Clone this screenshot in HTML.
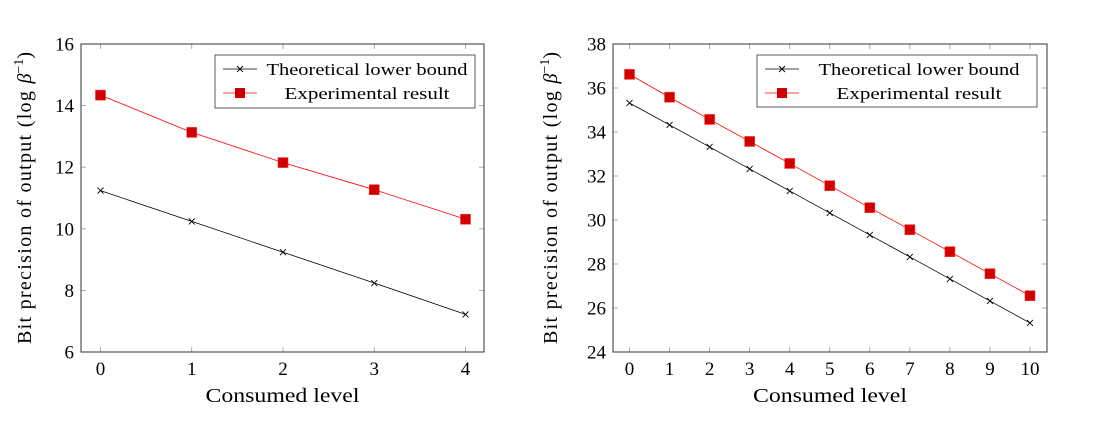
<!DOCTYPE html>
<html><head><meta charset="utf-8"><style>
html,body{margin:0;padding:0;background:#fff;}
svg{display:block;font-family:"Liberation Serif",serif;}
</style></head><body>
<svg id="svg" width="1096" height="428" xmlns="http://www.w3.org/2000/svg"></svg>
<script>
const leftLevels=[0,1,2,3,4];
const leftTheory=[11.24,10.24,9.24,8.24,7.22];
const leftExp=[14.34,13.13,12.15,11.27,10.31];
const leftYTicks=[6,8,10,12,14,16];
const rightLevels=[0,1,2,3,4,5,6,7,8,9,10];
const rightTheory=[35.32,34.32,33.32,32.32,31.32,30.32,29.32,28.32,27.32,26.32,25.32];
const rightExp=[36.62,35.58,34.57,33.57,32.57,31.56,30.56,29.56,28.56,27.56,26.56];
const rightYTicks=[24,26,28,30,32,34,36,38];

const NS='http://www.w3.org/2000/svg';
const svg=document.getElementById('svg');
function mk(tag,attrs,parent){const e=document.createElementNS(NS,tag);for(const k in attrs)e.setAttribute(k,attrs[k]);(parent||svg).appendChild(e);return e;}

function plot(cfg){
  const g=mk('g',{});
  
  
  const {x0,x1,y0,y1,px0,px1,xmin,xmax,ymin,ymax}=cfg;
  const sx=v=>px0+(v-xmin)/(xmax-xmin)*(px1-px0);
  const sy=v=>y1-(v-ymin)/(ymax-ymin)*(y1-y0);
  cfg.yTicks.forEach(t=>{
    const y=sy(t);
    const a=mk('line',{x1:x0,x2:x0+5,y1:y,y2:y,stroke:'#999','stroke-width':0.8},g);
    
    mk('line',{x1:x1,x2:x1-5,y1:y,y2:y,stroke:'#999','stroke-width':0.8},g);
    const tx=mk('text',{x:x0-7,y:y+6.5,'text-anchor':'end','font-size':19},g);
    tx.textContent=t;
    
  });
  cfg.levels.forEach(t=>{
    const x=sx(t);
    mk('line',{x1:x,x2:x,y1:y1,y2:y1-5,stroke:'#999','stroke-width':0.8},g);
    mk('line',{x1:x,x2:x,y1:y0,y2:y0+5,stroke:'#999','stroke-width':0.8},g);
    const tx=mk('text',{x:x,y:y1+23,'text-anchor':'middle','font-size':19},g);
    tx.textContent=t;
    
  });
  const box=mk('rect',{x:x0,y:y0,width:x1-x0,height:y1-y0,fill:'none',stroke:'#333','stroke-width':1},g);
  
  const tl=mk('polyline',{points:cfg.levels.map((l,i)=>sx(l)+','+sy(cfg.theory[i])).join(' '),fill:'none',stroke:'#000','stroke-width':0.8},g);
  
  cfg.levels.forEach((l,i)=>{
    const x=sx(l),y=sy(cfg.theory[i]);
    const m=mk('path',{d:`M${x-3},${y-3}L${x+3},${y+3}M${x-3},${y+3}L${x+3},${y-3}`,stroke:'#000','stroke-width':0.9},g);
    
  });
  const el=mk('polyline',{points:cfg.levels.map((l,i)=>sx(l)+','+sy(cfg.exp[i])).join(' '),fill:'none',stroke:'#f00','stroke-width':0.8},g);
  
  cfg.levels.forEach((l,i)=>{
    const x=sx(l),y=sy(cfg.exp[i]);
    const m=mk('rect',{x:x-5,y:y-5,width:10,height:10,fill:'#d00000',stroke:'#f33','stroke-width':0.6},g);
    
  });
  const L=cfg.legend;
  const lg=mk('g',{},g);
  
  mk('rect',{x:L.x,y:L.y,width:L.w,height:L.h,fill:'#fff',stroke:'#333','stroke-width':0.8},lg);
  const r1=L.y+14,r2=L.y+38;
  mk('line',{x1:L.x+8,x2:L.x+42,y1:r1,y2:r1,stroke:'#000','stroke-width':0.8},lg);
  const cx=L.x+25;
  mk('path',{d:`M${cx-3},${r1-3}L${cx+3},${r1+3}M${cx-3},${r1+3}L${cx+3},${r1-3}`,stroke:'#000','stroke-width':0.9},lg);
  mk('line',{x1:L.x+8,x2:L.x+42,y1:r2,y2:r2,stroke:'#f00','stroke-width':0.8},lg);
  mk('rect',{x:cx-5,y:r2-5,width:10,height:10,fill:'#d00000'},lg);
  const tc=L.x+48+(L.w-52)/2;
  const t1=mk('text',{x:tc,y:r1+6,'text-anchor':'middle','font-size':17,textLength:201,lengthAdjust:'spacingAndGlyphs'},lg);
  t1.textContent='Theoretical lower bound';
  
  const t2=mk('text',{x:tc,y:r2+6,'text-anchor':'middle','font-size':17,textLength:165,lengthAdjust:'spacingAndGlyphs'},lg);
  t2.textContent='Experimental result';
  
  const xt=mk('text',{x:(x0+x1)/2,y:y1+50,'text-anchor':'middle','font-size':20,textLength:154,lengthAdjust:'spacingAndGlyphs'},g);
  xt.textContent='Consumed level';
  
  const yc=(y0+y1)/2;
  const yt=mk('text',{x:cfg.ylabX,y:yc,'text-anchor':'middle','font-size':20,transform:`rotate(-90 ${cfg.ylabX} ${yc})`},g);
  yt.innerHTML='<tspan letter-spacing="1.3">Bit precision of output (log </tspan><tspan font-style="italic">β</tspan><tspan dy="-8" font-size="14">−1</tspan><tspan dy="8">)</tspan>';
  
}
plot({name:'left-chart',x0:81,x1:484,y0:44,y1:352,px0:100.5,px1:465.5,xmin:0,xmax:4,ymin:6,ymax:16,
  levels:leftLevels,theory:leftTheory,exp:leftExp,yTicks:leftYTicks,
  legend:{x:215,y:55,w:260,h:53},ylabX:31});
plot({name:'right-chart',x0:613,x1:1047,y0:44,y1:352,px0:629.5,px1:1030,xmin:0,xmax:10,ymin:24,ymax:38,
  levels:rightLevels,theory:rightTheory,exp:rightExp,yTicks:rightYTicks,
  legend:{x:757,y:55,w:280,h:52},ylabX:557});
</script>
</body></html>
